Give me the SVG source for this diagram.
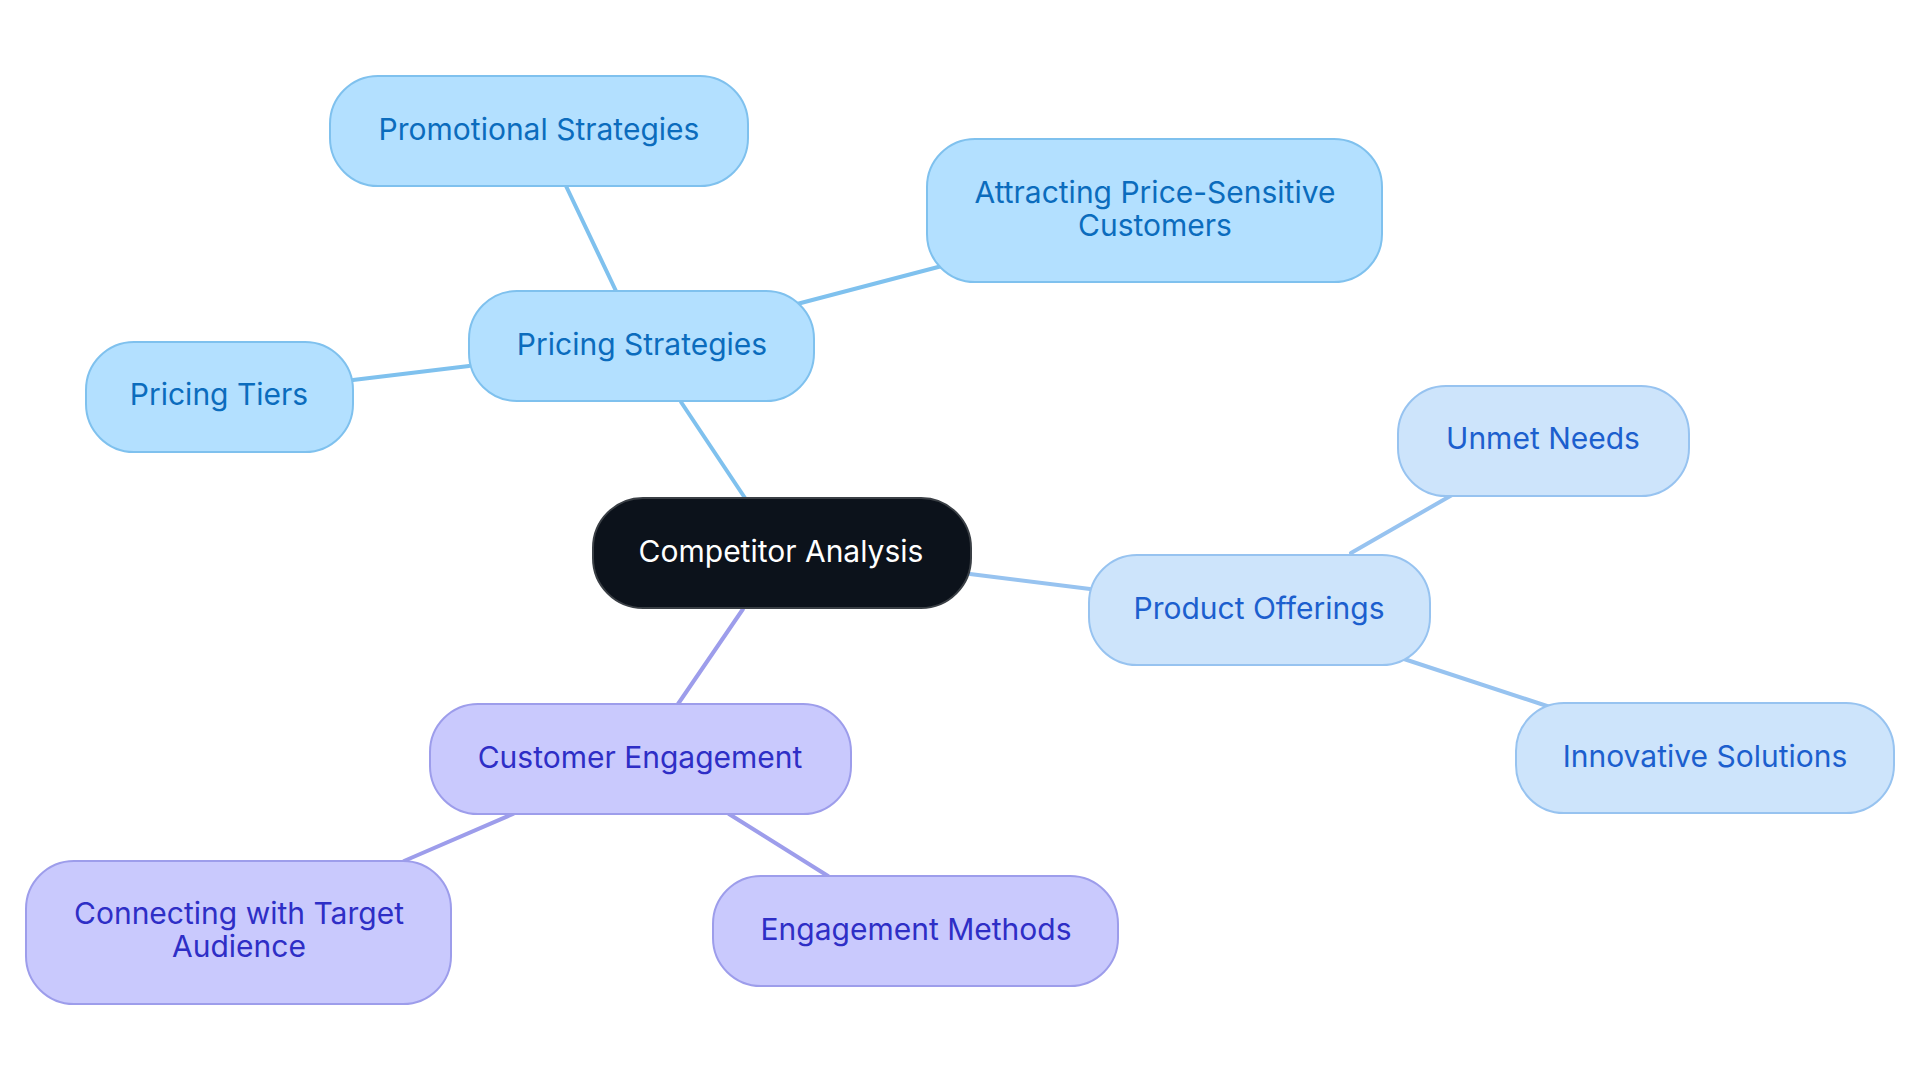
<svg xmlns="http://www.w3.org/2000/svg" width="1920" height="1083" viewBox="0 0 1920 1083">
<style>
text{font-family:Inter,"Noto Sans",sans-serif;font-size:30px;text-anchor:middle;dominant-baseline:central}
.b rect{fill:#b3e0ff;stroke:#7fc1ee;stroke-width:2}
.b text{fill:#0b6cbd}
.p rect{fill:#cde4fb;stroke:#97c3f0;stroke-width:2}
.p text{fill:#1c5fce}
.v rect{fill:#c9c9fd;stroke:#9d9deb;stroke-width:2}
.v text{fill:#2e2ec6}
.c rect{fill:#0c121b;stroke:#3a3f45;stroke-width:2}
.c text{fill:#ffffff}
.e line{stroke-width:4;stroke-linecap:round}
.eb{stroke:#7fc1ee}.ep{stroke:#97c3f0}.ev{stroke:#9d9deb}
</style>
<rect width="1920" height="1083" fill="#ffffff"/>
<g id="connectors" class="e">
<line class="eb" x1="745" y1="498" x2="681" y2="402"/>
<line class="eb" x1="616" y1="291" x2="566" y2="186"/>
<line class="eb" x1="797" y1="304" x2="942" y2="266"/>
<line class="eb" x1="469" y1="366" x2="353" y2="380"/>
<line class="ep" x1="970" y1="574" x2="1090" y2="589"/>
<line class="ep" x1="1351" y1="553" x2="1452" y2="495"/>
<line class="ep" x1="1404" y1="659" x2="1550" y2="707"/>
<line class="ev" x1="743" y1="609" x2="678" y2="704"/>
<line class="ev" x1="513" y1="814" x2="404" y2="861"/>
<line class="ev" x1="729" y1="814" x2="828" y2="876"/>
</g>
<g id="promotional" class="b"><rect x="330" y="76" width="418" height="110" rx="48"/><text x="539" y="129">Promotional Strategies</text></g>
<g id="attracting" class="b"><rect x="927" y="139" width="455" height="143" rx="48"/><text x="1155" y="192">Attracting Price-Sensitive</text><text x="1155" y="225">Customers</text></g>
<g id="pricing" class="b"><rect x="469" y="291" width="345" height="110" rx="48"/><text x="642" y="344">Pricing Strategies</text></g>
<g id="tiers" class="b"><rect x="86" y="342" width="267" height="110" rx="48"/><text x="219" y="394">Pricing Tiers</text></g>
<g id="center" class="c"><rect x="593" y="498" width="378" height="110" rx="50"/><text x="781" y="551">Competitor Analysis</text></g>
<g id="unmet" class="p"><rect x="1398" y="386" width="291" height="110" rx="48"/><text x="1543" y="438">Unmet Needs</text></g>
<g id="product" class="p"><rect x="1089" y="555" width="341" height="110" rx="48"/><text x="1259" y="608">Product Offerings</text></g>
<g id="innovative" class="p"><rect x="1516" y="703" width="378" height="110" rx="48"/><text x="1705" y="756">Innovative Solutions</text></g>
<g id="customer" class="v"><rect x="430" y="704" width="421" height="110" rx="48"/><text x="640" y="757">Customer Engagement</text></g>
<g id="connecting" class="v"><rect x="26" y="861" width="425" height="143" rx="48"/><text x="239" y="913">Connecting with Target</text><text x="239" y="946">Audience</text></g>
<g id="methods" class="v"><rect x="713" y="876" width="405" height="110" rx="48"/><text x="916" y="929">Engagement Methods</text></g>
</svg>
